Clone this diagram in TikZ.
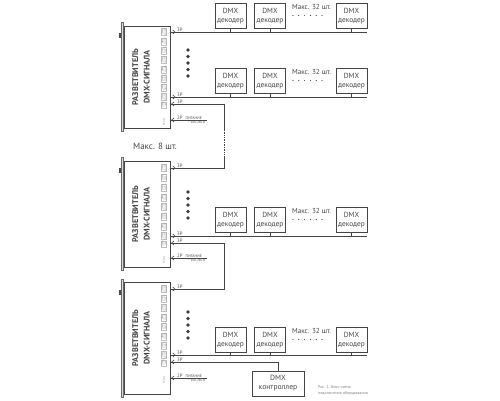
\documentclass[tikz,border=0pt]{standalone}
\usepackage{fontspec}
\setmainfont{PT Sans}
\usetikzlibrary{arrows.meta,calc}
\definecolor{ln}{HTML}{454545}
\definecolor{capt}{HTML}{808080}
\tikzset{
  wire/.style={draw=ln, line width=0.7pt},
  dec/.style={draw=ln, line width=0.7pt, minimum width=31pt, minimum height=25pt, inner sep=0pt, align=center, text=ln, font=\fontsize{7.4}{8.8}\selectfont},
  splbox/.style={draw=ln, line width=0.7pt, fill=white, inner sep=0pt},
  splbar/.style={draw=ln!80, line width=0.4pt, fill=gray!30},
  spltext/.style={rotate=90, align=center, text=ln, font=\bfseries\fontsize{8.2}{11.5}\selectfont},
  tipout/.style={-{Straight Barb[length=2.4pt,width=4.2pt]}, draw=ln, line width=0.6pt},
  tipin/.style={{Straight Barb[length=2.4pt,width=4.2pt]}-, draw=ln, line width=0.6pt},
  plab/.style={inner sep=0pt, text=ln, font=\fontsize{4.8}{5}\selectfont},
  portlab/.style={rotate=90, draw=ln!35, line width=0.2pt, inner sep=0.3pt, align=center, text=ln!70, font=\fontsize{2.6}{2.7}\selectfont},
  maxlab/.style={inner sep=0pt, text=ln, font=\fontsize{7.2}{8}\selectfont},
  bul/.style={fill=ln!90!black},
}
% #1 name, #2 out1 y, #3 out2 y, #4 in y, #5 power y
\newcommand\splitports[5]{%
  \foreach \k in {0,...,7}{%
    \pgfmathsetmacro\yy{#2+\k*(#3-#2)/7}%
    \pgfmathtruncatemacro\nn{8-\k}%
    \node[portlab] (#1p\k) at (164,\yy) {DMX\\OUT\nn};
  }
  \node[portlab] (#1pin) at (164,#4+1) {DMX\\IN};
  \node[portlab, draw=none] (#1ppw) at (164,#5+2) {Power};
  % arrows
  \coordinate (#1o1) at (170,#2);
  \coordinate (#1o2) at (170,#3);
  \coordinate (#1in) at (170,#4);
  \coordinate (#1pw) at (170,#5);
  \draw[tipout] (#1o1) -- ++(5.5,0);
  \draw[tipout] (#1o2) -- ++(5.5,0);
  \draw[tipin] ($(#1in)+(1.2,0)$) -- ++(6,0);
  \draw[tipin] ($(#1pw)+(1.2,0)$) -- ++(6,0);
  \node[plab, anchor=south west] (#1l1) at ($(#1o1)+(7,-0.6)$) {3P};
  \node[plab, anchor=south west] (#1l2) at ($(#1o2)+(7,-0.6)$) {3P};
  \node[plab, anchor=south west] (#1l3) at ($(#1in)+(7,-0.6)$) {3P};
  \node[plab, anchor=south west] (#1l4) at ($(#1pw)+(7,-0.6)$) {2P\hspace{3pt}{\fontsize{3.8}{4}\selectfont ПИТАНИЕ}};
  \node[plab, anchor=north west, font=\fontsize{3.2}{3.5}\selectfont] (#1l5) at ($(#1pw)+(18,1.2)$) {\textasciitilde\ 100-240 В};
  \draw[wire] (#1pw) -- ++(37,0);
}
\begin{document}
\begin{tikzpicture}[x=1pt,y=-1pt]
\useasboundingbox (0,0) rectangle (500,400);

% ---------- decoders ----------
\foreach \r/\t in {1/3, 2/68, 3/207, 4/327}{
  \node[dec, anchor=north] (d\r a) at (230.5,\t) {DMX\\декодер};
  \node[dec, anchor=north] (d\r b) at (270,\t) {DMX\\декодер};
  \node[dec, anchor=north] (d\r c) at (351.5,\t) {DMX\\декодер};
  \node[maxlab, anchor=north] (m\r) at (311.5,\t+1.5) {Макс. 32 шт.};
  \foreach \i in {0,...,5}{\fill[ln] (293+\i*5.8,\t+12.5) circle (0.6);}
}

% ---------- splitters ----------
\draw[splbar] (121,22) rectangle (123.4,131);
\fill[ln] (119.4,33) rectangle (121,37.5);
\node[splbox, minimum width=46pt, minimum height=102pt, anchor=north west] (s1) at (124,26) {};
\node[spltext] (t1) at (141,77) {РАЗВЕТВИТЕЛЬ\\DMX-СИГНАЛА};

\draw[splbar] (121,157) rectangle (123.4,270);
\fill[ln] (119.4,168) rectangle (121,172.5);
\node[splbox, minimum width=46pt, minimum height=106pt, anchor=north west] (s2) at (124,161) {};
\node[spltext] (t2) at (141,214) {РАЗВЕТВИТЕЛЬ\\DMX-СИГНАЛА};

\draw[splbar] (121,279) rectangle (123.4,397);
\fill[ln] (119.4,290) rectangle (121,294.5);
\node[splbox, minimum width=46pt, minimum height=112pt, anchor=north west] (s3) at (124,282) {};
\node[spltext] (t3) at (141,338) {РАЗВЕТВИТЕЛЬ\\DMX-СИГНАЛА};

\splitports{a}{32}{97}{104}{120}
\splitports{b}{168}{236}{243}{258}
\splitports{c}{289}{355}{362}{378}

% ---------- bullets ----------
\foreach \y in {50,56.5,63,69.5,76}{\fill[bul] (188,\y) circle (1.9);}
\foreach \y in {192,198.5,205,211.5,218}{\fill[bul] (188,\y) circle (1.9);}
\foreach \y in {312,318.5,325,331.5,338}{\fill[bul] (188,\y) circle (1.9);}

% ---------- buses ----------
\draw[wire] (ao1) -- (d1c.east |- ao1);
\draw[wire] (ao2) -- (d2c.east |- ao2);
\draw[wire] (bo2) -- (d3c.east |- bo2);
\draw[wire] (co2) -- (d4c.east |- co2);
\foreach \c in {a,b,c}{
  \draw[wire] (d1\c.south) -- (d1\c.south |- ao1);
  \draw[wire] (d2\c.south) -- (d2\c.south |- ao2);
  \draw[wire] (d3\c.south) -- (d3\c.south |- bo2);
  \draw[wire] (d4\c.south) -- (d4\c.south |- co2);
}

% ---------- chain ----------
\coordinate (j1a) at (224,104);
\coordinate (j1c) at (224,130);
\coordinate (j1d) at (224,156);
\coordinate (j1b) at (224,168);
\draw[wire] (ain) -- (j1a) -- (j1c);
\draw[draw=ln, line width=0.7pt, densely dotted] (j1c) -- (j1d);
\draw[wire] (j1d) -- (j1b) -- (bo1);

\coordinate (j2a) at (224,243);
\coordinate (j2b) at (224,289);
\draw[wire] (bin) -- (j2a) -- (j2b) -- (co1);

\node[inner sep=0pt, text=ln, font=\fontsize{9}{10}\selectfont] (m8) at (155,146) {Макс. 8 шт.};

% ---------- controller ----------
\node[draw=ln, line width=0.7pt, minimum width=52pt, minimum height=25pt, inner sep=0pt, align=center, text=ln, font=\fontsize{7.6}{9}\selectfont] (ctl) at (278,383.5) {DMX\\контроллер};
\draw[wire] (cin) -- (ctl.north |- cin) -- (ctl.north);

% ---------- caption ----------
\node[anchor=north west, inner sep=0pt, align=left, text=capt, font=\fontsize{4}{6}\selectfont] (cap) at (318,385.5) {Рис. 1. Блок-схема\\подключения оборудования.};
\end{tikzpicture}
\end{document}
